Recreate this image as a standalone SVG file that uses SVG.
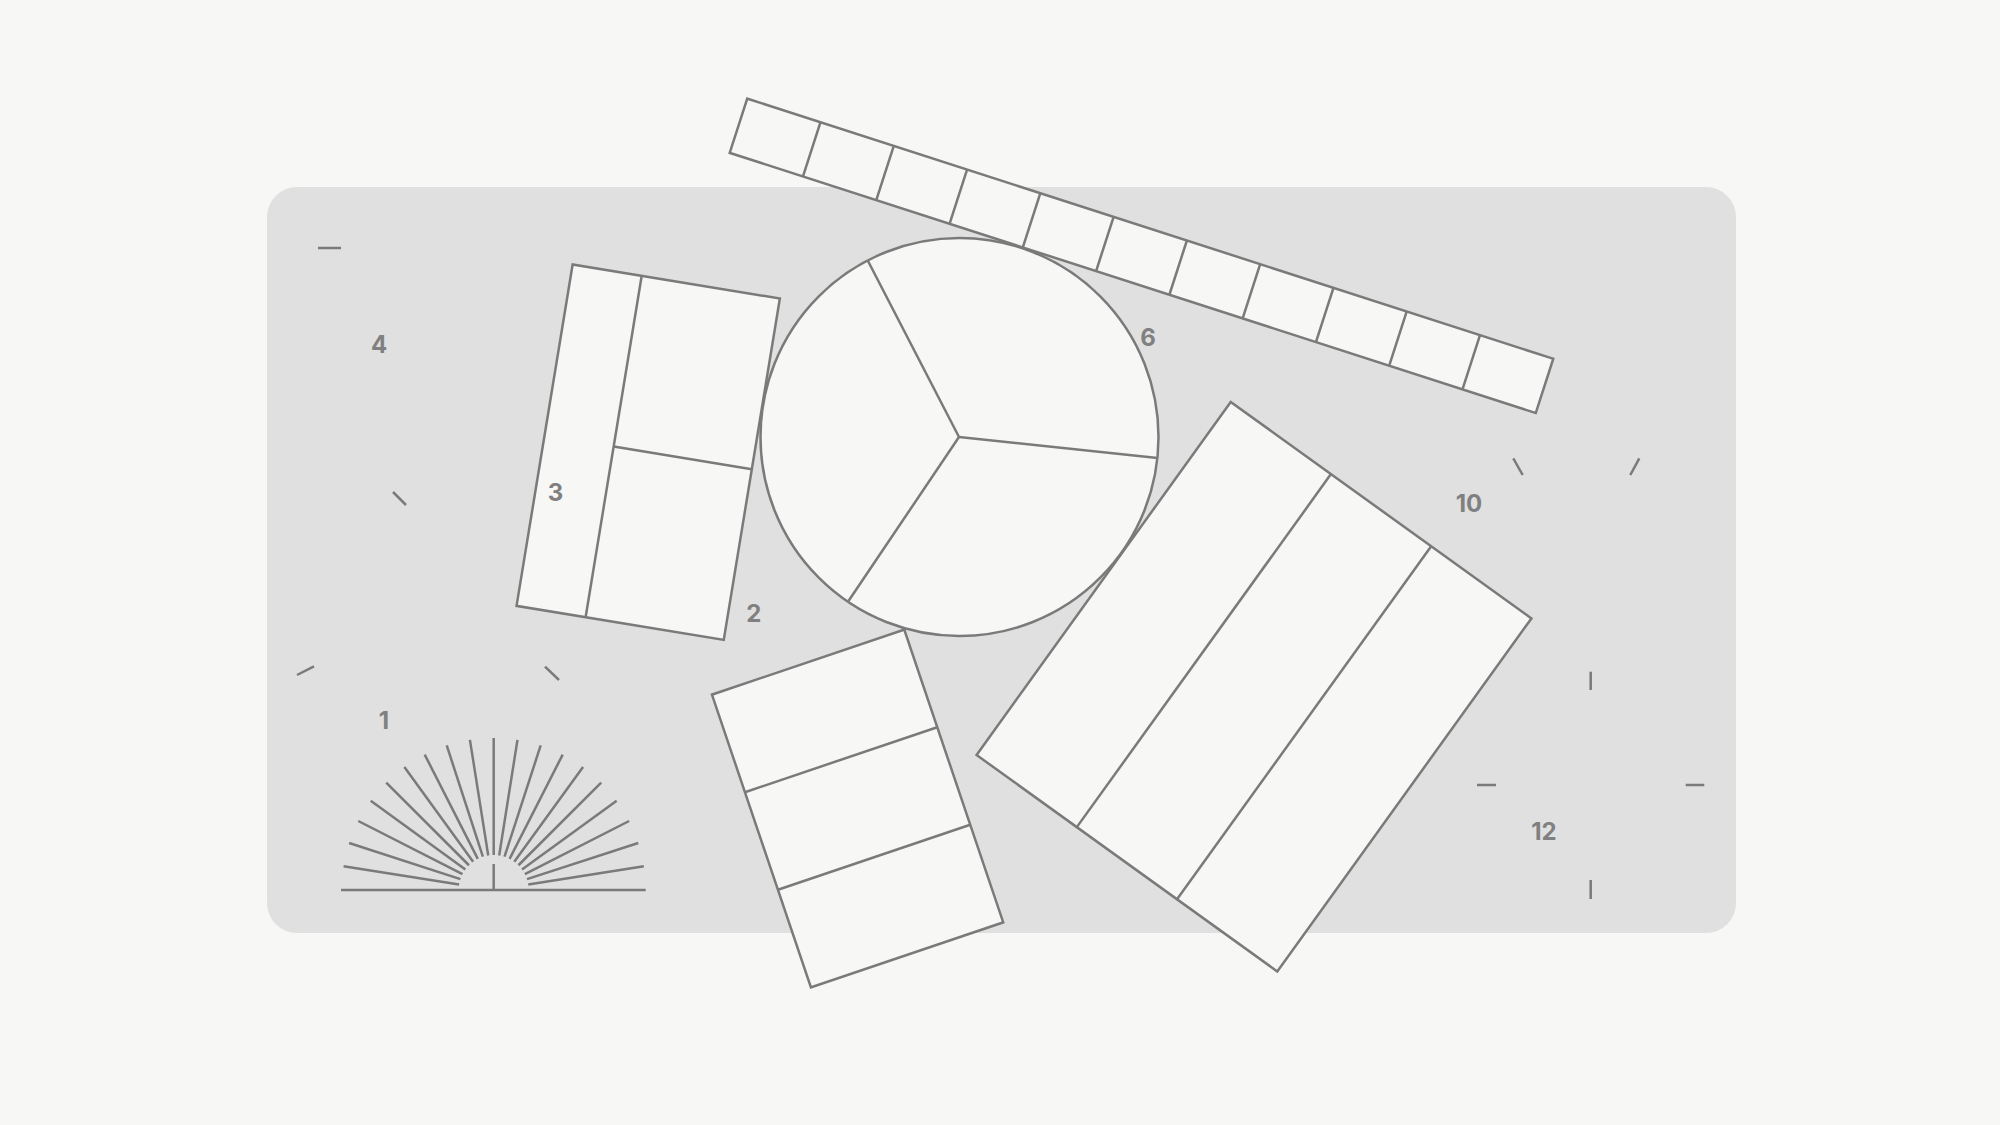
<svg xmlns="http://www.w3.org/2000/svg" width="2000" height="1125" viewBox="0 0 2000 1125">
  <style>
    .bg { fill: #f7f7f5; }
    .panel { fill: #e0e0e0; }
    .shape { fill: #f7f7f5; stroke: #7a7a7a; stroke-width: 2.5; stroke-linejoin: miter; }
    .ln { fill: none; stroke: #7a7a7a; stroke-width: 2.5; }
    .tick { fill: none; stroke: #7a7a7a; stroke-width: 2.5; }
    .lbl { font-family: Inter, "Liberation Sans", sans-serif; font-weight: 700; font-size: 24px; fill: #808080; text-anchor: middle; }
  </style>
  <rect class="bg" x="0" y="0" width="2000" height="1125"/>
  <rect class="panel" x="267" y="187" width="1469" height="746" rx="30" ry="30"/>

  <g id="ticks">
    <line class="tick" x1="318" y1="248" x2="341" y2="248"/>
    <line class="tick" x1="393" y1="492" x2="406" y2="505"/>
    <line class="tick" x1="297" y1="675" x2="314" y2="666.3"/>
    <line class="tick" x1="545" y1="666.7" x2="559" y2="680"/>
    <line class="tick" x1="1513.3" y1="458.3" x2="1522.7" y2="475"/>
    <line class="tick" x1="1639.3" y1="458.3" x2="1630.3" y2="475"/>
    <line class="tick" x1="1590.7" y1="671.7" x2="1590.7" y2="690"/>
    <line class="tick" x1="1477" y1="785" x2="1496" y2="785"/>
    <line class="tick" x1="1685.7" y1="785" x2="1704.3" y2="785"/>
    <line class="tick" x1="1590.7" y1="880" x2="1590.7" y2="899"/>
  </g>

  <g id="fan" transform="translate(493.7,890)">
    <line class="ln" x1="-152.7" y1="0" x2="152" y2="0"/>
    <line class="ln" x1="0" y1="0" x2="0" y2="-26"/>
    <line class="ln" x1="35" y1="0" x2="152" y2="0" transform="rotate(-9)"/>
    <line class="ln" x1="35" y1="0" x2="152" y2="0" transform="rotate(-18)"/>
    <line class="ln" x1="35" y1="0" x2="152" y2="0" transform="rotate(-27)"/>
    <line class="ln" x1="35" y1="0" x2="152" y2="0" transform="rotate(-36)"/>
    <line class="ln" x1="35" y1="0" x2="152" y2="0" transform="rotate(-45)"/>
    <line class="ln" x1="35" y1="0" x2="152" y2="0" transform="rotate(-54)"/>
    <line class="ln" x1="35" y1="0" x2="152" y2="0" transform="rotate(-63)"/>
    <line class="ln" x1="35" y1="0" x2="152" y2="0" transform="rotate(-72)"/>
    <line class="ln" x1="35" y1="0" x2="152" y2="0" transform="rotate(-81)"/>
    <line class="ln" x1="35" y1="0" x2="152" y2="0" transform="rotate(-90)"/>
    <line class="ln" x1="35" y1="0" x2="152" y2="0" transform="rotate(-99)"/>
    <line class="ln" x1="35" y1="0" x2="152" y2="0" transform="rotate(-108)"/>
    <line class="ln" x1="35" y1="0" x2="152" y2="0" transform="rotate(-117)"/>
    <line class="ln" x1="35" y1="0" x2="152" y2="0" transform="rotate(-126)"/>
    <line class="ln" x1="35" y1="0" x2="152" y2="0" transform="rotate(-135)"/>
    <line class="ln" x1="35" y1="0" x2="152" y2="0" transform="rotate(-144)"/>
    <line class="ln" x1="35" y1="0" x2="152" y2="0" transform="rotate(-153)"/>
    <line class="ln" x1="35" y1="0" x2="152" y2="0" transform="rotate(-162)"/>
    <line class="ln" x1="35" y1="0" x2="152" y2="0" transform="rotate(-171)"/>
  </g>

  <g id="rect-bottom" transform="translate(857.6,808.5) rotate(-18.68)">
    <rect class="shape" x="-101.5" y="-154.5" width="203" height="309"/>
    <line class="ln" x1="-101.5" y1="-51.5" x2="101.5" y2="-51.5"/>
    <line class="ln" x1="-101.5" y1="51.5" x2="101.5" y2="51.5"/>
  </g>

  <g id="rect-stripes" transform="translate(1254,686.7) rotate(35.75)">
    <rect class="shape" x="-185.25" y="-217.5" width="370.5" height="435"/>
    <line class="ln" x1="-61.75" y1="-217.5" x2="-61.75" y2="217.5"/>
    <line class="ln" x1="61.75" y1="-217.5" x2="61.75" y2="217.5"/>
  </g>

  <g id="rect-left" transform="translate(648.2,452.2) rotate(9.33)">
    <rect class="shape" x="-105" y="-173" width="210" height="346"/>
    <line class="ln" x1="-35" y1="-173" x2="-35" y2="173"/>
    <line class="ln" x1="-35" y1="0" x2="105" y2="0"/>
  </g>

  <g id="circle">
    <circle class="shape" cx="959.5" cy="437" r="199"/>
    <line class="ln" x1="959" y1="437" x2="868" y2="261"/>
    <line class="ln" x1="959" y1="437" x2="1157.5" y2="458"/>
    <line class="ln" x1="959" y1="437" x2="848.5" y2="601"/>
  </g>

  <g id="strip" transform="translate(1141.5,255.8) rotate(17.89)">
    <rect class="shape" x="-423.5" y="-28.5" width="847" height="57"/>
    <line class="ln" x1="-346.5" y1="-28.5" x2="-346.5" y2="28.5"/>
    <line class="ln" x1="-269.5" y1="-28.5" x2="-269.5" y2="28.5"/>
    <line class="ln" x1="-192.5" y1="-28.5" x2="-192.5" y2="28.5"/>
    <line class="ln" x1="-115.5" y1="-28.5" x2="-115.5" y2="28.5"/>
    <line class="ln" x1="-38.5" y1="-28.5" x2="-38.5" y2="28.5"/>
    <line class="ln" x1="38.5" y1="-28.5" x2="38.5" y2="28.5"/>
    <line class="ln" x1="115.5" y1="-28.5" x2="115.5" y2="28.5"/>
    <line class="ln" x1="192.5" y1="-28.5" x2="192.5" y2="28.5"/>
    <line class="ln" x1="269.5" y1="-28.5" x2="269.5" y2="28.5"/>
    <line class="ln" x1="346.5" y1="-28.5" x2="346.5" y2="28.5"/>
  </g>

  <g id="labels">
    <text class="lbl" x="379" y="352.5">4</text>
    <text class="lbl" x="555.5" y="501">3</text>
    <text class="lbl" x="753.7" y="622.3">2</text>
    <text class="lbl" x="384" y="728.7">1</text>
    <text class="lbl" x="1148" y="346">6</text>
    <text class="lbl" x="1469" y="512.3">10</text>
    <text class="lbl" x="1544" y="840">12</text>
  </g>
</svg>
